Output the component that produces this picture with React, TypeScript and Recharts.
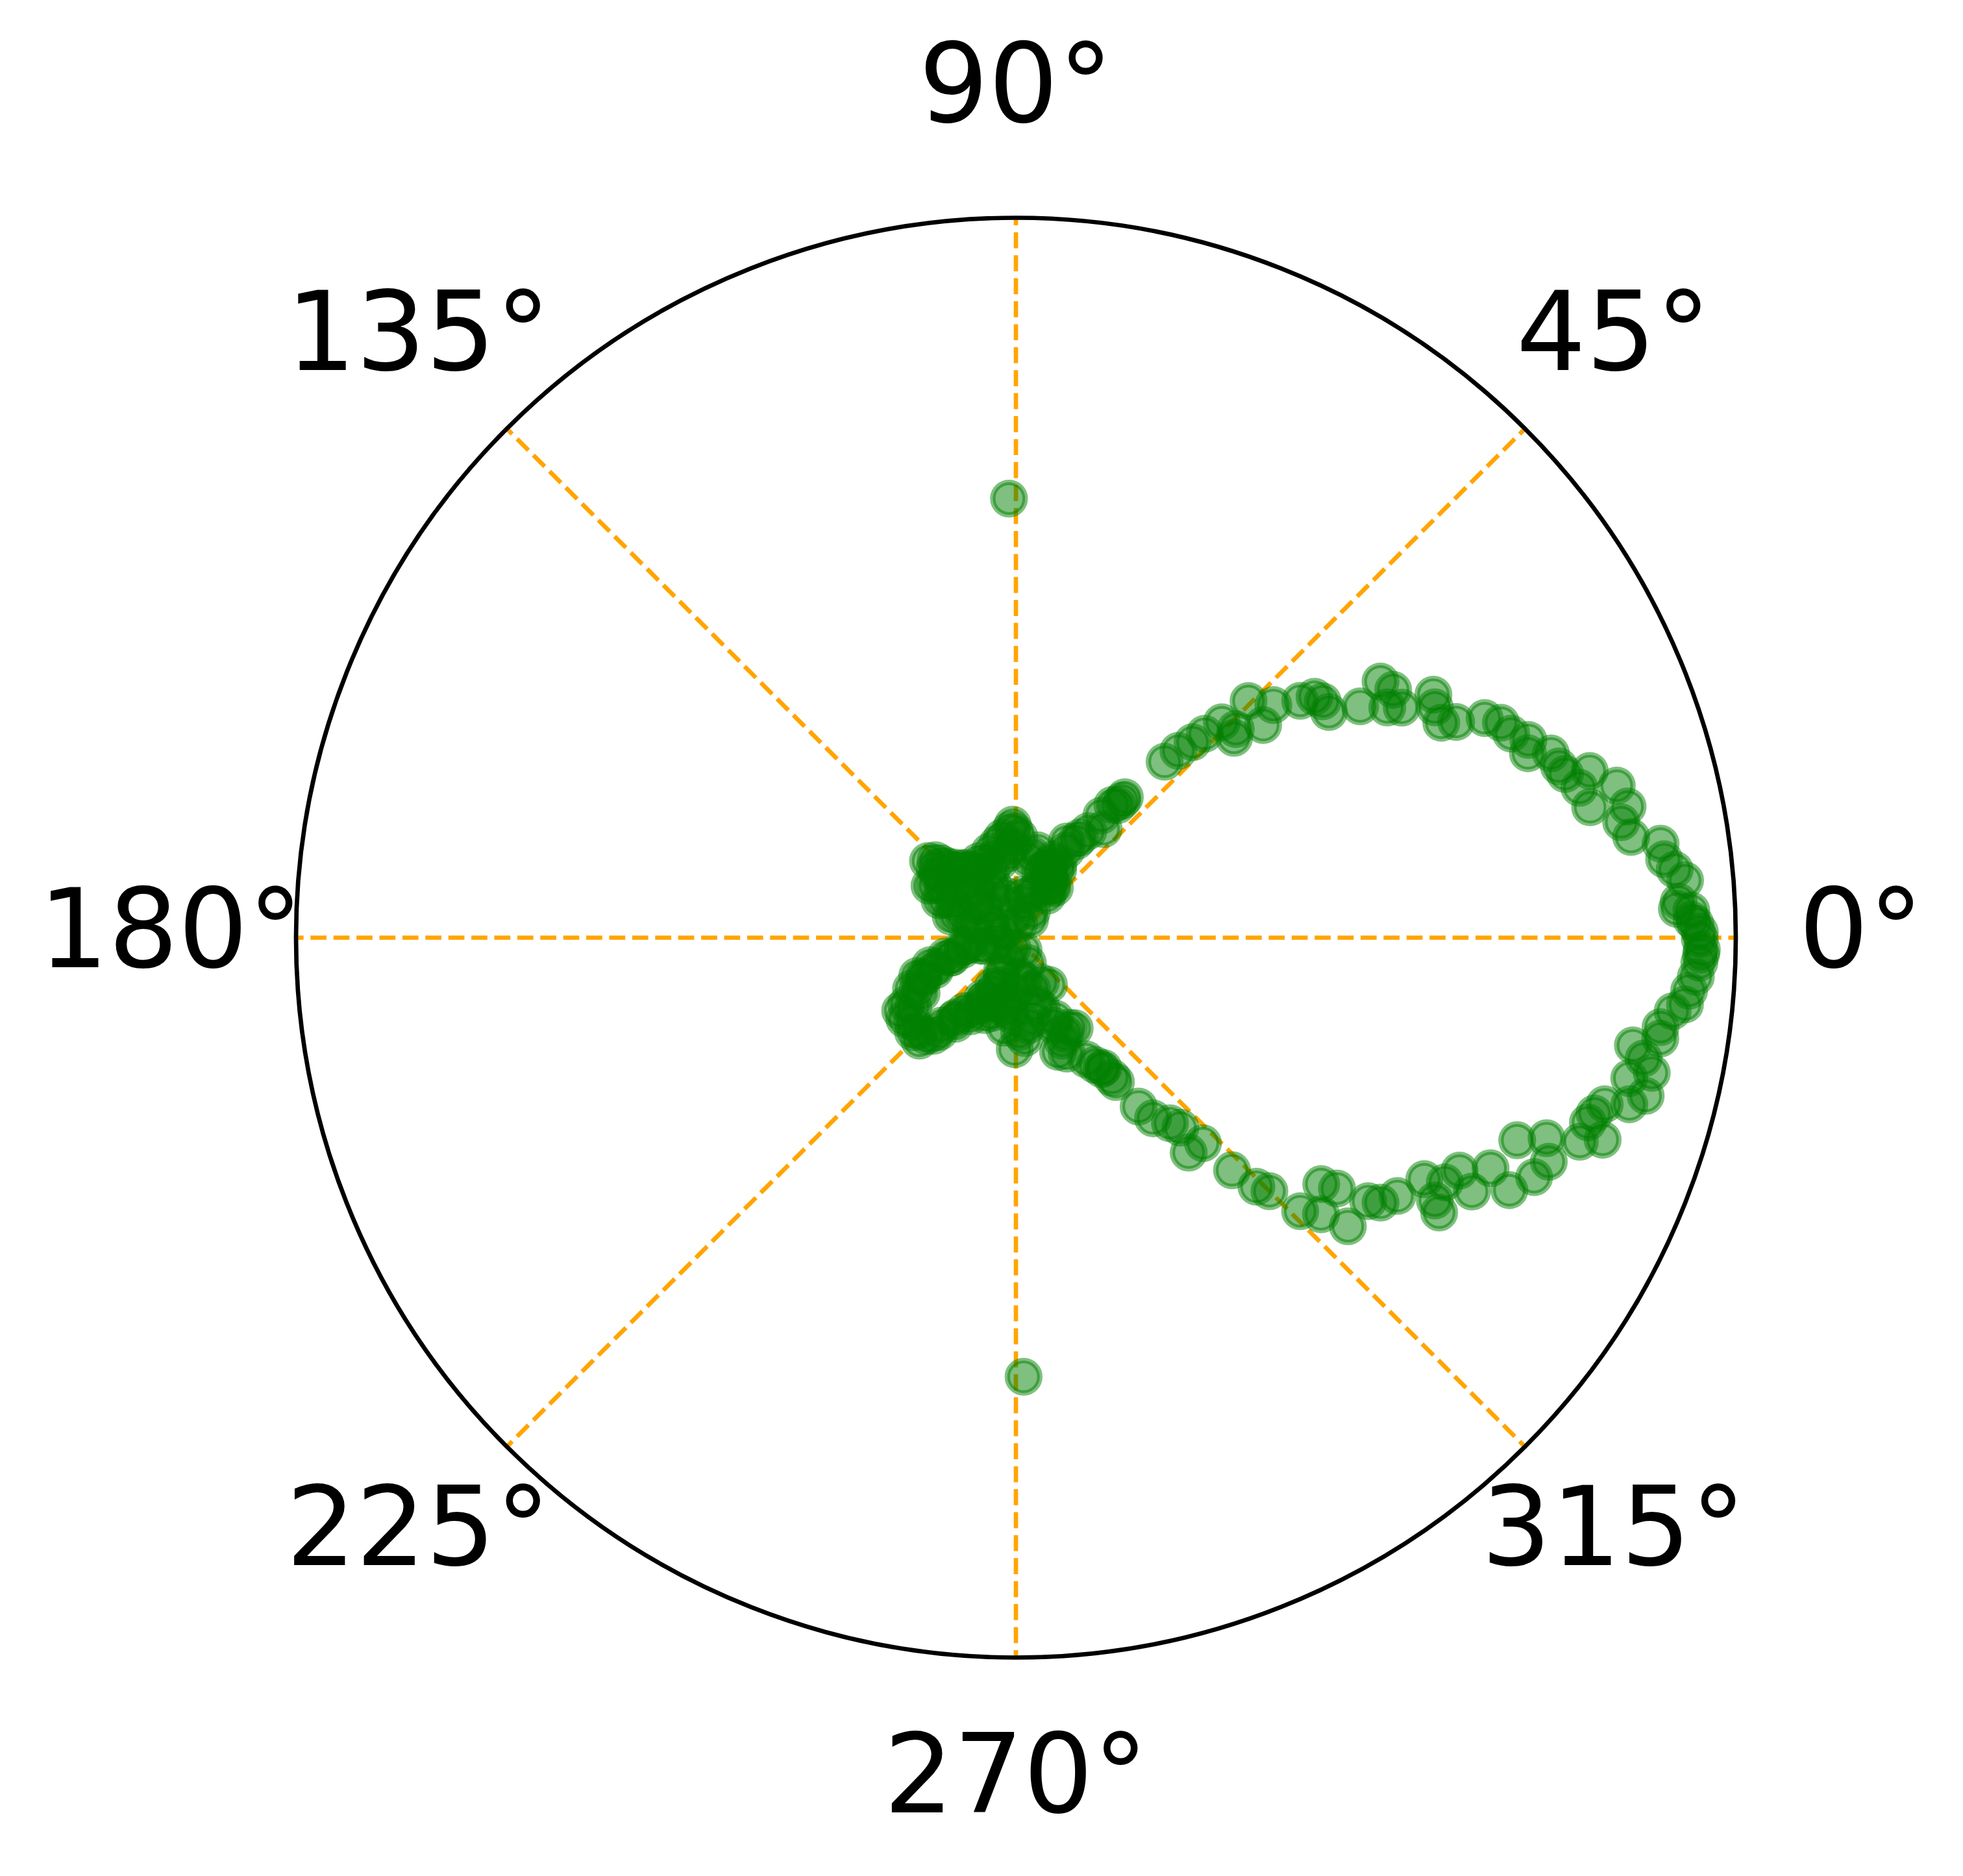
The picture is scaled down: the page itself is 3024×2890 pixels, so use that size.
import { ScatterChart, Scatter, XAxis, YAxis, ReferenceLine, ReferenceDot } from 'recharts'

// right-hand lobe, angles in degrees, radius as fraction of the outer ring
const LOBE_THETA = [
  52.2, 52.5, 52.2, 51.1, 49.8, 49.0, 47.9, 47.2, 46.3, 42.5, 43.5, 45.5, 40.7, 42.1, 39.8, 38.9,
  37.6, 35.8, 33.9, 35.1, 33.3, 31.8, 30.8, 30.2, 28.8, 26.8, 26.1, 25.1, 23.9, 22.4, 21.1, 19.8,
  19.0, 17.5, 16.6, 16.2, 14.9, 12.8, 14.2, 12.1, 10.8, 9.3, 8.3, 6.9, 5.9, 4.9, 3.1, 2.3,
  1.2, -0.1, -1.0, 2.5, 1.5, 0.5, -1.4, -2.1, -3.3, -4.5, -5.7, -6.4, -7.9, -8.9, -9.9, -10.9,
  -12.0, -12.9, -14.1, -15.2, -15.8, -16.9, -17.9, -19.0, -19.9, -20.7, -22.0, -22.8, -24.8, -27.1, -25.9, -29.1,
  -27.7, -29.7, -32.1, -33.0, -30.6, -34.1, -36.0, -36.8, -41.0, -38.0, -38.9, -42.2, -43.9, -45.0, -46.0, -47.1,
  -47.7, -51.2, -49.1, -50.3, -52.8, -54.0, -55.3, -56.1
]
const LOBE_R = [
  0.241, 0.232, 0.247, 0.194, 0.320, 0.344, 0.366, 0.386, 0.414, 0.411, 0.421, 0.461, 0.453, 0.482, 0.514, 0.533,
  0.538, 0.536, 0.576, 0.619, 0.627, 0.607, 0.624, 0.671, 0.664, 0.662, 0.681, 0.719, 0.737, 0.744, 0.763, 0.756,
  0.786, 0.791, 0.796, 0.830, 0.810, 0.818, 0.861, 0.869, 0.856, 0.866, 0.905, 0.907, 0.920, 0.933, 0.922, 0.939,
  0.944, 0.950, 0.953, 0.919, 0.939, 0.950, 0.952, 0.950, 0.946, 0.938, 0.934, 0.918, 0.904, 0.906, 0.870, 0.888,
  0.903, 0.874, 0.902, 0.883, 0.850, 0.840, 0.835, 0.862, 0.833, 0.788, 0.751, 0.803, 0.793, 0.770, 0.733, 0.725,
  0.696, 0.686, 0.687, 0.701, 0.659, 0.640, 0.626, 0.611, 0.611, 0.566, 0.545, 0.572, 0.548, 0.498, 0.481, 0.441,
  0.386, 0.383, 0.349, 0.335, 0.315, 0.290, 0.244, 0.218
]

// dense knot around the pole
const CORE_THETA = [
  139.2, 147.0, 151.9, 159.4, 161.0, 157.5, 156.9, 131.4, 123.2, 112.9, 104.3, 90.6, 91.6, 92.0, 78.9, 67.3,
  61.3, 66.9, 77.9, 92.8, 113.3, 132.5, 135.3, 108.6, 136.3, 138.9, 101.1, 58.1, 64.3, 55.2, 62.1, 57.5,
  55.8, 55.0, 54.0,
  191.0, 192.5, 193.0, 194.9, 197.8, 201.2, 206.0, 211.3, 212.2, 216.2, 222.6, 226.9, 227.7, 229.7, 233.1, 238.7,
  243.2, 245.1, 247.4, 250.0, 252.1, 247.9, 254.5, 268.9, 274.9, 295.3, 266.0, 272.0, 269.4, 277.7, 287.2, 287.6,
  293.3, 294.3, 293.7, 290.3, 300.5, 301.9, 303.1, 304.5, 299.1, 301.9, 262.5
]
const CORE_R = [
  0.149, 0.134, 0.111, 0.088, 0.059, 0.034, 0.018, 0.130, 0.113, 0.112, 0.116, 0.148, 0.157, 0.127, 0.117, 0.105,
  0.097, 0.073, 0.050, 0.031, 0.080, 0.091, 0.061, 0.052, 0.106, 0.162, 0.133, 0.111, 0.121, 0.082, 0.151, 0.165,
  0.179, 0.207, 0.228,
  0.026, 0.051, 0.076, 0.101, 0.125, 0.147, 0.162, 0.178, 0.190, 0.192, 0.194, 0.196, 0.185, 0.160, 0.138, 0.118,
  0.097, 0.075, 0.051, 0.031, 0.015, 0.116, 0.096, 0.077, 0.053, 0.039, 0.107, 0.131, 0.155, 0.123, 0.096, 0.075,
  0.133, 0.157, 0.176, 0.169, 0.145, 0.208, 0.218, 0.236, 0.071, 0.020, 0.126
]

// more points packed into the same knot (it reads as solid green)
const CORE_B_THETA = [
  141, 136, 145, 149, 150, 154, 156, 162, 165, 150, 128, 134, 120, 126, 110, 116,
  102, 107, 88, 93, 95, 81, 76, 70, 65, 59, 70, 82, 118, 128, 140, 104,
  140, 98, 60, 52, 60, 58, 62.2, 55.9, 53.2, 58.8, 76.7, 52.0, 135.1,
  200, 195, 190, 197, 200, 203, 208, 214, 219, 224, 230, 231, 235, 240, 244, 248,
  250, 252, 258, 265, 280, 262, 275, 282, 290, 296, 297, 303, 305, 300,
  201.9, 197.2, 188.6, 203.8, 210.5, 235.2, 241.0, 251.2, 232.8
]
const CORE_B_R = [
  0.140, 0.155, 0.125, 0.140, 0.100, 0.118, 0.080, 0.095, 0.065, 0.040, 0.122, 0.138, 0.105, 0.120, 0.100, 0.118,
  0.108, 0.125, 0.140, 0.150, 0.118, 0.110, 0.125, 0.098, 0.112, 0.090, 0.065, 0.060, 0.072, 0.085, 0.070, 0.060,
  0.112, 0.140, 0.118, 0.088, 0.140, 0.158, 0.106, 0.088, 0.073, 0.043, 0.020, 0.032, 0.146,
  0.030, 0.045, 0.075, 0.095, 0.118, 0.140, 0.155, 0.172, 0.185, 0.186, 0.178, 0.168, 0.146, 0.126, 0.104, 0.082,
  0.058, 0.110, 0.090, 0.085, 0.060, 0.100, 0.140, 0.115, 0.105, 0.125, 0.150, 0.150, 0.080, 0.195,
  0.121, 0.093, 0.065, 0.140, 0.152, 0.124, 0.096, 0.070, 0.142
]

// two lone points on the vertical axis
const STRAY_THETA = [90.9, 271.0]
const STRAY_R = [0.61, 0.61]

const TICK_ANGLES = [0, 45, 90, 135, 180, 225, 270, 315]
const TICK_LABELS = ['0°', '45°', '90°', '135°', '180°', '225°', '270°', '315°']

const W = 3024
const H = 2890
const CX = 1565
const CY = 1444.5
const RIM = 1109
const LABEL_R = 1.174
const GREEN = '#008000'
const ORANGE = '#FFA500'

const rad = (d: number) => (d * Math.PI) / 180

const toXY = (thetas: number[], rs: number[]) =>
  thetas.map((t, i) => ({ x: rs[i] * Math.cos(rad(t)), y: rs[i] * Math.sin(rad(t)) }))

const points = [
  ...toXY(LOBE_THETA, LOBE_R),
  ...toXY(CORE_THETA, CORE_R),
  ...toXY(CORE_B_THETA, CORE_B_R),
  ...toXY(STRAY_THETA, STRAY_R)
]

const Marker = (p: any) => (
  <circle
    cx={p.cx}
    cy={p.cy}
    r={25}
    fill={GREEN}
    fillOpacity={0.5}
    stroke={GREEN}
    strokeOpacity={0.5}
    strokeWidth={8.3}
  />
)

export default function App() {
  return (
    <div style={{ position: 'absolute', left: 0, top: 0, width: W, height: H, background: '#fff' }}>
      <ScatterChart width={W} height={H} margin={{ top: 0, right: 0, bottom: 0, left: 0 }}>
        <XAxis
          type="number"
          dataKey="x"
          hide
          domain={[-CX / RIM, (W - CX) / RIM]}
          allowDataOverflow
        />
        <YAxis
          type="number"
          dataKey="y"
          hide
          domain={[-(H - CY) / RIM, CY / RIM]}
          allowDataOverflow
        />
        {TICK_ANGLES.map(a => (
          <ReferenceLine
            key={'g' + a}
            segment={[
              { x: 0, y: 0 },
              { x: Math.cos(rad(a)), y: Math.sin(rad(a)) }
            ]}
            stroke={ORANGE}
            strokeWidth={6.7}
            strokeDasharray="24.7 10.7"
          />
        ))}
        <ReferenceDot x={0} y={0} r={RIM} fill="none" stroke="#000" strokeWidth={6.7} />
        <Scatter data={points} shape={Marker} isAnimationActive={false} />
        {TICK_ANGLES.map((a, i) => (
          <ReferenceDot
            key={'t' + a}
            x={LABEL_R * Math.cos(rad(a))}
            y={LABEL_R * Math.sin(rad(a))}
            r={0}
            shape={(p: any) => (
              <text
                x={p.cx}
                y={p.cy}
                dy="0.27em"
                textAnchor="middle"
                fontFamily="DejaVu Sans"
                fontSize={169}
                fill="#000"
              >
                {TICK_LABELS[i]}
              </text>
            )}
          />
        ))}
      </ScatterChart>
    </div>
  )
}
